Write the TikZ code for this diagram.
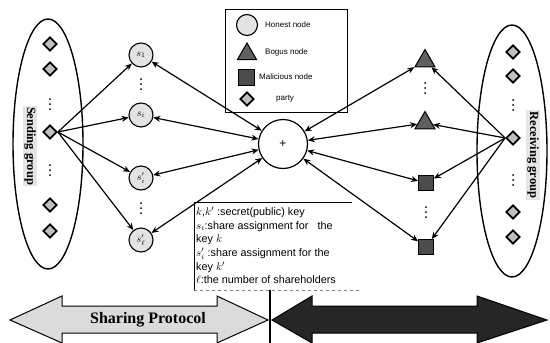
\documentclass[tikz,border=0pt]{standalone}
\usepackage{fontspec}
\setmainfont{Liberation Sans}
\newfontfamily\serifbold{Liberation Serif}
\usetikzlibrary{shapes.geometric,arrows.meta}
\begin{document}
\begin{tikzpicture}[x=1pt,y=-1pt,
  conn/.style={line width=1.2pt,-{Stealth[length=7pt,width=6pt]}},
  bconn/.style={line width=1.2pt,{Stealth[length=7pt,width=6pt]}-{Stealth[length=7pt,width=6pt]}},
  honest/.style={circle,draw,line width=1.1pt,fill=gray!22,minimum size=24pt,inner sep=0pt,font=\fontsize{10}{10}\selectfont},
  bogus/.style={regular polygon,regular polygon sides=3,draw,line width=1pt,fill=gray!75!black,minimum size=23pt,inner sep=0pt},
  malicious/.style={rectangle,draw,line width=0.8pt,fill=gray!60!black,minimum size=15pt,inner sep=0pt},
  party/.style={diamond,draw,line width=1.8pt,fill=gray!50,minimum size=14pt,inner sep=0pt},
  group/.style={ellipse,draw,line width=1.4pt,minimum width=70pt,inner sep=0pt},
  grouplabel/.style={rotate=-90,fill=gray!20,inner sep=1.5pt,font=\serifbold\bfseries\fontsize{12.5}{12.5}\selectfont},
  legtext/.style={anchor=west,inner sep=0pt,font=\fontsize{8}{8}\selectfont},
  bigarrow/.style={draw,line width=1pt}
]
\useasboundingbox (0,0) rectangle (550,343);

% vertical ellipsis dots
\def\vdts(#1,#2){\foreach \dy in {-5,0,5} \fill (#1,#2+\dy) circle (1pt);}

% groups
\node[group,minimum height=250pt] (SG) at (48,144) {};
\node[group,minimum height=252pt] (RG) at (512,151) {};
\node[grouplabel] (SGl) at (30,146) {Sending group};
\node[grouplabel] (RGl) at (533,155) {Receiving group};

% sending parties
\node[party] (sp1) at (50,44) {};
\node[party] (sp2) at (50,69) {};
\vdts(50,104)
\node[party] (L) at (50,132) {};
\vdts(50,170)
\node[party] (sp4) at (50,205) {};
\node[party] (sp5) at (50,231) {};

% receiving parties
\node[party] (rp1) at (513,52) {};
\node[party] (rp2) at (513,76) {};
\vdts(513,105)
\node[party] (R) at (513,138) {};
\vdts(513,180)
\node[party] (rp4) at (513,212) {};
\node[party] (rp5) at (513,237) {};

% honest nodes
\node[honest] (s1) at (141,55) {$s_1$};
\vdts(141,84)
\node[honest] (si) at (141,115) {$s_i$};
\node[honest] (sip) at (141,178) {$s'_i$};
\vdts(141,208)
\node[honest] (slp) at (141,240) {$s'_\ell$};

% bogus & malicious
\node[bogus] (t1) at (425,61) {};
\vdts(425,88)
\node[bogus] (t2) at (425,123) {};
\node[malicious] (q1) at (426,183) {};
\vdts(426,212)
\node[malicious] (q2) at (426,247) {};

% combiner
\node[circle,draw,line width=1.2pt,minimum size=49pt,inner sep=0pt,font=\fontsize{12}{12}\selectfont] (P) at (283,144) {+};

% connectors
\foreach \n in {s1,si,sip,slp} {
  \draw[conn] (L.east) -- (\n);
  \draw[bconn] (P) -- (\n);
}
\foreach \n in {t1,t2,q1,q2} {
  \draw[bconn] (P) -- (\n);
  \draw[conn] (R.west) -- (\n);
}

% legend
\node[draw,line width=0.6pt,minimum width=122pt,minimum height=103pt,anchor=north west,inner sep=0pt] (leg) at (225,9) {};
\node[honest,minimum size=21pt] (lh) at (247,25) {};
\node[legtext] (lht) at (265,25) {Honest node};
\node[bogus,minimum size=22pt] (lb) at (247,54) {};
\node[legtext] (lbt) at (265,52) {Bogus node};
\node[malicious,minimum size=16pt] (lm) at (246,77) {};
\node[legtext] (lmt) at (259,77) {Malicious node};
\node[party] (lp) at (247,99) {};
\node[legtext] (lpt) at (276,99) {party};

% text box
\draw[line width=0.7pt] (194,290) -- (194,202) -- (352,202);
\draw[line width=0.5pt,dashed,gray] (194,290) -- (360,290);
\node[anchor=north west,align=left,inner sep=0pt,font=\fontsize{10.8}{13.6}\selectfont] (tb) at (196,207) {%
$k$,$k'$ :secret(public) key\\
$s_i$:share assignment for\ \ \ the\\
key $k$\\
$s'_i$ :share assignment for the\\
key $k'$\\
$\ell$:the number of shareholders};

% bottom protocol arrows
\draw[bigarrow,fill=gray!28] (10,320) -- (62,296) -- (62,306) -- (217,306) -- (217,296) -- (268,320)
  -- (217,343) -- (217,333) -- (62,333) -- (62,343) -- cycle;
\node[font=\serifbold\bfseries\fontsize{16}{16}\selectfont] (sp) at (148,320) {Sharing Protocol};
\draw[bigarrow,fill=black!85] (272,320) -- (312,296) -- (312,306) -- (477,306) -- (477,296) -- (547,320)
  -- (477,343) -- (477,333) -- (312,333) -- (312,343) -- cycle;
\draw[line width=1.8pt] (270,290) -- (270,343);
\end{tikzpicture}
\end{document}
